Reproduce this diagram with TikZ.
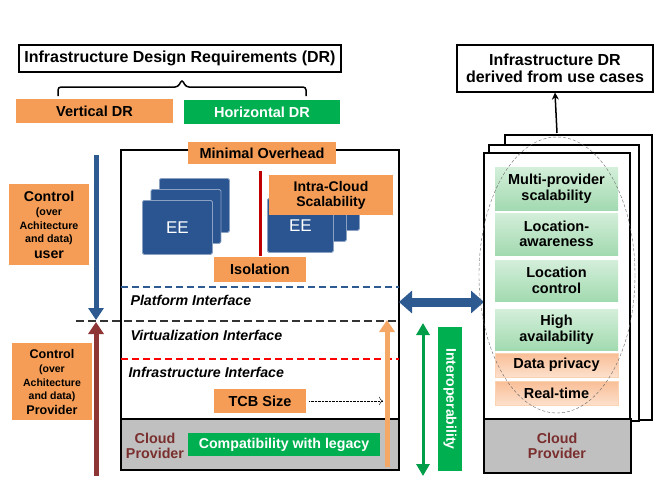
\documentclass[tikz,border=0pt]{standalone}
\usepackage{fontspec}
\setmainfont{Liberation Sans}
\usetikzlibrary{positioning, arrows.meta}
\definecolor{drorange}{HTML}{F59D56}
\definecolor{drgreen}{HTML}{00B050}
\definecolor{eeblue}{HTML}{2A5590}
\definecolor{ctlblue}{HTML}{2E5A92}
\definecolor{ctlred}{HTML}{8E3535}
\definecolor{tcborange}{HTML}{F5A865}
\definecolor{provtext}{HTML}{7A2E2E}
\definecolor{cloudgray}{HTML}{C0C0C0}
\definecolor{uclight}{HTML}{D4EFDA}
\definecolor{ucdark}{HTML}{A2DAB0}
\definecolor{ucotop}{HTML}{F9BE96}
\definecolor{ucobot}{HTML}{FCE0CC}
\newcommand\fs[1]{\fontsize{#1}{#1}\selectfont}

\tikzset{
  req/.style={fill=drorange, inner sep=0pt, align=center, font=\bfseries\fs{14.5}},
  hreq/.style={fill=drgreen, text=white, inner sep=0pt, align=center, font=\bfseries\fs{14.5}},
  ee/.style={draw=eeblue!55!white, fill=eeblue, line width=0.8pt, rounded corners=1.5pt,
    text=white, font=\fs{17}, minimum height=54pt, anchor=north west, inner sep=0pt},
  iface/.style={anchor=west, font=\bfseries\itshape\fs{14.2}},
  page/.style={draw, line width=1.8pt, fill=white},
  usecase/.style={inner sep=0pt, align=center, font=\bfseries\fs{14.5}, minimum width=123pt},
  ucgreen/.style={usecase, top color=uclight, bottom color=ucdark},
  ucorange/.style={usecase, draw=drorange!45!white, top color=ucotop, bottom color=ucobot},
  thickarrow/.style={line width=5pt, -{Triangle[width=15pt,length=12pt]}}
}

\begin{document}
\begin{tikzpicture}[x=1pt, y=-1pt]
\useasboundingbox (0,0) rectangle (657,488);

\node[draw, line width=1.2pt, minimum width=322pt, minimum height=27pt, inner sep=0pt, font=\bfseries\fs{16}] (dr) at (180,58.5) {Infrastructure Design Requirements (DR)};
\node[req, minimum width=157pt, minimum height=24pt] (vdr) at (94.5,111) {Vertical DR};
\node[hreq, minimum width=156pt, minimum height=24pt] (hdr) at (262,112) {Horizontal DR};
\draw[line width=1.5pt, rounded corners=3pt] (58,96) -- (58,87) -- (178,87) -- (182,79.5) -- (186,87) -- (306,87) -- (306,96);

% cloud stack
\node[draw, line width=2pt, minimum width=278pt, minimum height=320pt, inner sep=0pt] (main) at (260,310) {};
\draw[line width=2pt, fill=cloudgray] (121,419) rectangle (399,470);
\node[req, minimum width=148pt, minimum height=22pt] (mo) at (262,153) {Minimal Overhead};

\foreach \d in {2,1} \node[ee, minimum width=70pt] at (142+8.5*\d, 200-11*\d) {};
\node[ee, minimum width=70pt] (ee1) at (142,200) {EE};
\foreach \d in {2,1} \node[ee, minimum width=66pt] at (267+13*\d, 198-11*\d) {};
\node[ee, minimum width=66pt] (ee2) at (267,198) {EE};
\draw[line width=3pt, red!75!black] (260,171) -- (260,256);
\node[req, minimum width=124pt, minimum height=40pt, font=\bfseries\fs{14}] (ics) at (331,195) {Intra-Cloud\\[1pt]Scalability};
\node[req, minimum width=92pt, minimum height=25pt] (iso) at (260,269.5) {Isolation};

\draw[ctlblue, line width=2pt, dash pattern=on 7pt off 4pt] (121,287) -- (399,287);
\node[iface] (pif) at (127,300) {Platform Interface};
\draw[black!80, line width=2.5pt, dash pattern=on 8pt off 4pt] (76,321) -- (399,321);
\node[iface] (vif) at (127,335) {Virtualization Interface};
\draw[red, line width=2pt, dash pattern=on 7pt off 4pt] (121,359) -- (399,359);
\node[iface] (iif) at (125,372) {Infrastructure Interface};

\node[req, minimum width=92pt, minimum height=24pt] (tcb) at (260,401) {TCB Size};
\coordinate (tcbend) at (383,401);
\draw[densely dotted, thin, -{To[length=4pt]}] ([xshift=3pt]tcb.east) -- (tcbend);

\node[text=provtext, align=center, font=\bfseries\fs{14.3}] (cp1) at (155,446) {Cloud\\[1pt]Provider};
\node[hreq, minimum width=192pt, minimum height=23pt, font=\bfseries\fs{14.2}] (legacy) at (284,444.5) {Compatibility with legacy};

\coordinate (o1) at (387,467);
\coordinate (o2) at (387,320);
\draw[thickarrow, tcborange] (o1) -- (o2);

% control arrows
\coordinate (u1) at (96,155);
\coordinate (u2) at (96,320);
\coordinate (p1) at (96,476);
\coordinate (p2) at (96,322);
\draw[thickarrow, ctlblue] (u1) -- (u2);
\draw[thickarrow, ctlred] (p1) -- (p2);
\node[req, minimum width=80pt, minimum height=81pt] (cu) at (49,224.5) {{\fs{14.2}Control}\\{\fs{10.7}(over}\\[-1pt]{\fs{10.7}Achitecture}\\[-1pt]{\fs{10.7}and data)}\\[1pt]{\fs{14.2}user}};
\node[req, minimum width=80pt, minimum height=77pt] (cpv) at (52,381.5) {{\fs{12.6}Control}\\{\fs{10.5}(over}\\[-1pt]{\fs{10.5}Achitecture}\\[-1pt]{\fs{10.5}and data)}\\{\fs{12.6}Provider}};

% interoperability
\coordinate (h1) at (399,302);
\coordinate (h2) at (484,302);
\draw[ctlblue, line width=9pt, {Triangle[width=22pt,length=13pt]}-{Triangle[width=22pt,length=13pt]}] (h1) -- (h2);
\coordinate (g1) at (423,323);
\coordinate (g2) at (423,476);
\draw[drgreen!90!black, line width=3pt, {Triangle[width=13pt,length=12pt]}-{Triangle[width=13pt,length=12pt]}] (g1) -- (g2);
\node[hreq, rotate=-90, minimum width=144pt, minimum height=24pt, font=\bfseries\fs{14}] (iop) at (450,399) {Interoperability};

% use case pages
\node[draw, line width=1.2pt, align=center, minimum width=196pt, minimum height=47pt, inner sep=0pt, font=\bfseries\fs{16}] (uc) at (555,68.5) {Infrastructure DR\\[1pt]derived from use cases};
\draw[page] (505,135) rectangle (652,420);
\draw[page] (489,145) rectangle (639,421);
\node[page, minimum width=146pt, minimum height=266pt, inner sep=0pt] (pg) at (557,286) {};
\coordinate (pgtop) at (557,133);
\draw[line width=1.5pt, -{Stealth[length=7pt,width=7pt]}] (pgtop) -- (uc.south);
\draw[line width=1.8pt, fill=cloudgray] (484,419) rectangle (631,473);
\node[text=provtext, align=center, font=\bfseries\fs{14.3}] (cp2) at (557,446) {Cloud\\[1pt]Provider};

\node[ucgreen, minimum height=43pt] (mps) at (556.5,188.5) {Multi-provider\\[1pt]scalability};
\node[ucgreen, minimum height=42pt] (law) at (556.5,234) {Location-\\[1pt]awareness};
\node[ucgreen, minimum height=41pt] (lcc) at (556.5,280.5) {Location\\[1pt]control};
\node[ucgreen, minimum height=41pt] (hav) at (556.5,329.5) {High\\[1pt]availability};
\node[ucorange, minimum height=24pt] (dpv) at (556.5,365) {Data privacy};
\node[ucorange, minimum height=24pt] (rtm) at (556.5,393) {Real-time};
\draw[black!60, densely dashed, thin] (557,275) ellipse [x radius=78, y radius=138];

\end{tikzpicture}
\end{document}
